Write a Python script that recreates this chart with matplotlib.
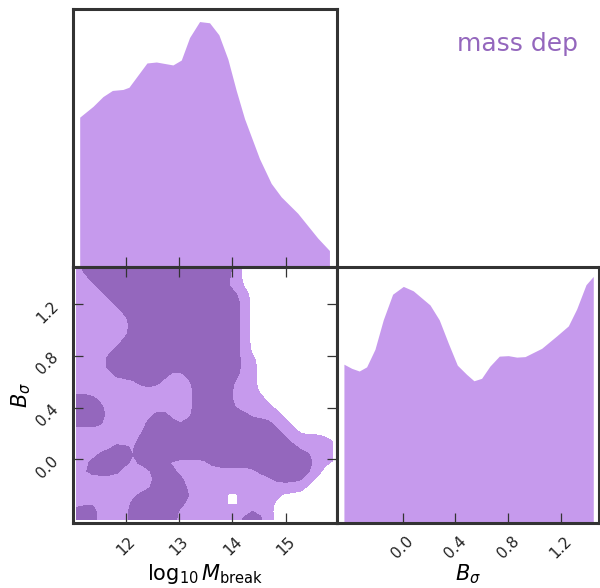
import numpy as np
import matplotlib
matplotlib.use("Agg")
import matplotlib.pyplot as plt

light = "#c69aed"
dark = "#9467bd"
frame = "#333333"

# marginal of log10 M_break, peak normalised to 1
mbreak_x = [11.131, 11.381, 11.568, 11.745, 11.944, 12.056, 12.394, 12.570, 12.882, 13.039,
            13.195, 13.383, 13.570, 13.745, 13.914, 14.071, 14.227, 14.508, 14.728, 14.916,
            15.227, 15.602, 15.822]
mbreak_pdf = [0.610, 0.654, 0.694, 0.719, 0.723, 0.732, 0.831, 0.835, 0.823, 0.843,
              0.935, 1.000, 0.995, 0.946, 0.847, 0.719, 0.604, 0.441, 0.340, 0.285,
              0.218, 0.117, 0.066]

# marginal of B_sigma
bsig_x = [-0.445, -0.386, -0.329, -0.273, -0.210, -0.147, -0.076, 0.005, 0.080, 0.207,
          0.277, 0.346, 0.414, 0.485, 0.540, 0.598, 0.661, 0.732, 0.800, 0.864,
          0.927, 1.053, 1.167, 1.255, 1.318, 1.389, 1.444]
bsig_pdf = [0.650, 0.633, 0.622, 0.639, 0.711, 0.832, 0.937, 0.969, 0.951, 0.893,
            0.832, 0.736, 0.646, 0.608, 0.582, 0.592, 0.642, 0.683, 0.685, 0.679,
            0.681, 0.715, 0.766, 0.807, 0.876, 0.976, 1.010]

# joint credible regions on a grid (top row = highest B_sigma)
# 0 = outside, 1 = outer region, 2 = inner region
grid_x = np.linspace(11.075, 15.878, 33)
grid_y = np.linspace(1.465, -0.465, 32)
region_map = [
    "122222222222222222221000000000000",
    "112222222222222222221000000000000",
    "111222222222222222211000000000000",
    "111122222222222222222100000000000",
    "111112222222222222222100000000000",
    "111111222222222222222100000000000",
    "111111122222222222222100000000000",
    "111111122222222222222100000000000",
    "111111122222222222222100000000000",
    "111111222222222222222100000000000",
    "111112222222222222222100000000000",
    "111122222222222222222110000000000",
    "111122222222222222222110000000000",
    "111112222222112222222110000000000",
    "111111112221111222221110000000000",
    "111111111111111222221110000000000",
    "222111111111111222221111000000000",
    "222211111111111222221111100000000",
    "222211111122111222222211110000000",
    "222211111222212222222222211000000",
    "111111111222222222222222221100000",
    "111111112222222222222222222111110",
    "111112212222222222222222222211111",
    "111222212222222222222222222222111",
    "112222212221111112222222222222110",
    "122222111122211111111112222222100",
    "111111111122221111111111122221000",
    "111111111122221111111111111110000",
    "111111112222222111100111110000000",
    "112111122222221111100111100000000",
    "222111122222211111111121100000000",
    "222111122222211111111222100000000",
]

xticks_m = [12, 13, 14, 15]
xticks_b = [0.0, 0.4, 0.8, 1.2]
tick_labels_b = ["0.0", "0.4", "0.8", "1.2"]


def smooth(z):
    # light 1-2-1 smoothing so the contour edges are not blocky
    p = np.pad(z, 1, mode="edge")
    w = [[1, 2, 1], [2, 4, 2], [1, 2, 1]]
    out = np.zeros_like(z)
    for di in range(3):
        for dj in range(3):
            out += w[di][dj] * p[di:di + z.shape[0], dj:dj + z.shape[1]]
    return out / 16.0


fig = plt.figure(figsize=(6, 5.88), dpi=100)
ax_top = fig.add_axes([0.1212, 0.5464, 0.441, 0.4378])
ax_2d = fig.add_axes([0.1212, 0.1111, 0.441, 0.4354])
ax_right = fig.add_axes([0.5622, 0.1111, 0.4367, 0.4354])

for ax in [ax_top, ax_2d, ax_right]:
    for sp in ax.spines.values():
        sp.set_linewidth(2.2)
        sp.set_color(frame)
    ax.tick_params(direction="in", length=7, width=0.9, color=frame,
                   labelsize=11, labelcolor="#222222", pad=8)

# top: M_break marginal
ax_top.fill_between(mbreak_x, 0, mbreak_pdf, color=light, lw=0)
ax_top.set_xlim(11.0, 15.97)
ax_top.set_ylim(0, 1.05)
ax_top.set_xticks(xticks_m)
ax_top.set_xticklabels([])
ax_top.set_yticks([])

# joint panel
Z = np.array([[int(c) for c in row] for row in region_map], dtype=float)[::-1]
Z = smooth(Z)
gy = grid_y[::-1]
ax_2d.contourf(grid_x, gy, Z, levels=[0.5, 3], colors=[light])
ax_2d.contourf(grid_x, gy, Z, levels=[1.5, 3], colors=[dark])
ax_2d.set_xlim(11.0, 15.97)
ax_2d.set_ylim(-0.49, 1.49)
ax_2d.set_xticks(xticks_m)
ax_2d.set_xticklabels([str(v) for v in xticks_m], rotation=45, ha="center")
ax_2d.set_yticks(xticks_b)
ax_2d.set_yticklabels(tick_labels_b, rotation=45)
ax_2d.tick_params(top=True, right=True)
ax_2d.set_xlabel(r"$\log_{10}M_{\rm break}$", fontsize=15)
ax_2d.xaxis.set_label_coords(0.5, -0.155)
ax_2d.set_ylabel(r"$B_\sigma$", fontsize=15)
ax_2d.yaxis.set_label_coords(-0.15, 0.5)

# right: B_sigma marginal
ax_right.fill_between(bsig_x, 0, bsig_pdf, color=light, lw=0)
ax_right.set_xlim(-0.495, 1.49)
ax_right.set_ylim(0, 1.05)
ax_right.set_xticks(xticks_b)
ax_right.set_xticklabels(tick_labels_b, rotation=45, ha="center")
ax_right.set_yticks([])
ax_right.set_xlabel(r"$B_\sigma$", fontsize=15)
ax_right.xaxis.set_label_coords(0.5, -0.155)

fig.text(578 / 600, 1 - 44 / 588, "mass dep", color=dark, fontsize=18,
         ha="right", va="center")

fig.savefig("out.png", dpi=100)
